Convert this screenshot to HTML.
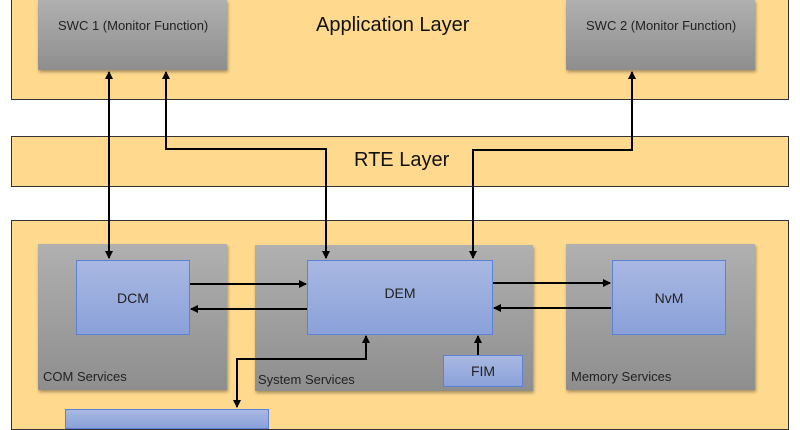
<!DOCTYPE html><html><head><style>
body{margin:0;width:800px;height:419px;overflow:hidden;background:#fff;font-family:"Liberation Sans",sans-serif;position:relative}
.l{position:absolute;background:#fed98e;border:1px solid #333;box-sizing:border-box}
.g{position:absolute;background:linear-gradient(#b0b0b0,#8e8e8e);box-shadow:1px 2px 3px rgba(0,0,0,.35);font-size:13px;color:#222}
.b{position:absolute;background:linear-gradient(#a9b8e2,#8aa1d9);border:1px solid #5b82d4;box-sizing:border-box;display:flex;align-items:center;justify-content:center;font-size:14px;color:#222}
.t{position:absolute;font-size:20px;color:#111}
</style></head><body>
<div class="l" style="left:11px;top:-2px;width:778px;height:102px"></div>
<div class="l" style="left:11px;top:136px;width:778px;height:51px"></div>
<div class="l" style="left:11px;top:220px;width:778px;height:210px"></div>
<div class="t" style="left:316px;top:14px">Application Layer</div>
<div class="t" style="left:354px;top:149px">RTE Layer</div>
<div class="g" style="left:38px;top:0;width:189px;height:70px"><span style="position:absolute;left:20px;top:18px">SWC 1 (Monitor Function)</span></div>
<div class="g" style="left:566px;top:0;width:189px;height:70px"><span style="position:absolute;left:20px;top:18px">SWC 2 (Monitor Function)</span></div>
<div class="g" style="left:38px;top:244px;width:189px;height:146px"><span style="position:absolute;left:5px;top:125px">COM Services</span></div>
<div class="g" style="left:255px;top:245px;width:278px;height:146px"><span style="position:absolute;left:3px;top:127px">System Services</span></div>
<div class="g" style="left:566px;top:244px;width:189px;height:146px"><span style="position:absolute;left:5px;top:125px">Memory Services</span></div>
<div class="b" style="left:76px;top:260px;width:114px;height:75px">DCM</div>
<div class="b" style="left:307px;top:260px;width:186px;height:75px;padding-bottom:10px">DEM</div>
<div class="b" style="left:612px;top:260px;width:114px;height:75px">NvM</div>
<div class="b" style="left:443px;top:355px;width:80px;height:32px">FIM</div>
<div class="b" style="left:65px;top:409px;width:204px;height:20px"></div>
<svg style="position:absolute;left:0;top:0" width="800" height="419">
<defs><marker id="a" markerWidth="8" markerHeight="8" refX="7" refY="4" orient="auto-start-reverse" markerUnits="userSpaceOnUse"><path d="M0,0L8,4L0,8z" fill="#000"/></marker></defs>
<g stroke="#000" stroke-width="2" fill="none">
<line x1="109" y1="72" x2="109" y2="258" marker-start="url(#a)" marker-end="url(#a)"/>
<polyline points="326,258 326,149 166,149 166,72" marker-start="url(#a)" marker-end="url(#a)"/>
<polyline points="473,258 473,150 632,150 632,72" marker-start="url(#a)" marker-end="url(#a)"/>
<line x1="190" y1="284" x2="306" y2="284" marker-end="url(#a)"/>
<line x1="307" y1="309" x2="191" y2="309" marker-end="url(#a)"/>
<line x1="493" y1="283" x2="610" y2="283" marker-end="url(#a)"/>
<line x1="611" y1="308" x2="494" y2="308" marker-end="url(#a)"/>
<line x1="478" y1="355" x2="478" y2="336" marker-end="url(#a)"/>
<polyline points="366,336 366,359 237,359 237,407" marker-start="url(#a)" marker-end="url(#a)"/>
</g></svg>
</body></html>
